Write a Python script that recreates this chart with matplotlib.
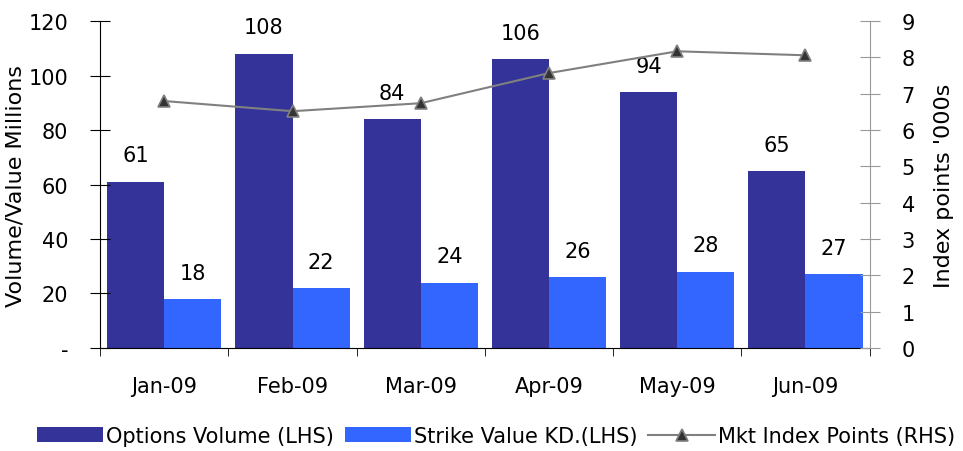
import numpy as np
import matplotlib
matplotlib.use('Agg')
import matplotlib.pyplot as plt
from matplotlib.ticker import FuncFormatter

plt.rc('font', family='DejaVu Sans', size=15)

months = ['Jan-09', 'Feb-09', 'Mar-09', 'Apr-09', 'May-09', 'Jun-09']
options_volume = [61, 108, 84, 106, 94, 65]
strike_value = [18, 22, 24, 26, 28, 27]
mkt_index = [6.80, 6.52, 6.74, 7.57, 8.17, 8.06]

fig = plt.figure(figsize=(9.63, 4.52), dpi=100)
ax = fig.add_axes([0.104, 0.228, 0.799, 0.723])
ax2 = ax.twinx()

x = np.arange(len(months))
w = 0.445
b1 = ax.bar(x - w / 2, options_volume, w, color='#333399', label='Options Volume (LHS)')
b2 = ax.bar(x + w / 2, strike_value, w, color='#3366FF', label='Strike Value KD.(LHS)')

for xi, v in zip(x - w / 2, options_volume):
    ax.text(xi, v + 6, str(v), ha='center', va='bottom', fontsize=15)
for xi, v in zip(x + w / 2, strike_value):
    ax.text(xi, v + 6, str(v), ha='center', va='bottom', fontsize=15)

ln, = ax2.plot(x, mkt_index, color='#808080', lw=1.5, marker='^', ms=9,
               mfc='#333333', mec='#808080', mew=1.2, label='Mkt Index Points (RHS)')

ax.set_xlim(-0.5, len(months) - 0.5)
ax.set_ylim(0, 120)
ax.set_yticks(range(0, 121, 20))
ax.yaxis.set_major_formatter(FuncFormatter(lambda v, p: '-' if v == 0 else f'{v:.0f}'))
ax2.set_ylim(0, 9)
ax2.set_yticks(range(0, 10))

ax.set_xticks(x)
ax.set_xticklabels(months)
ax.set_xticks(np.arange(-0.5, len(months)), minor=True)
ax.tick_params(axis='x', which='major', length=0, pad=20, labelsize=15)
ax.tick_params(axis='x', which='minor', length=6, direction='out', color='black')
ax.tick_params(axis='y', direction='inout', length=14, color='black', pad=16, labelsize=15)
ax2.tick_params(axis='y', direction='inout', length=14, color='#999999', pad=16, labelsize=15)

for s in ['top', 'right']:
    ax.spines[s].set_visible(False)
for s in ['top', 'left', 'bottom']:
    ax2.spines[s].set_visible(False)
ax2.spines['right'].set_color('#999999')

ax.set_ylabel('Volume/Value Millions', fontsize=16, labelpad=2)
ax2.set_ylabel("Index points '000s", fontsize=16, labelpad=14)

fig.legend(handles=[b1, b2, ln], loc='lower center', bbox_to_anchor=(0.515, -0.03),
           ncol=3, frameon=False, fontsize=15, handlelength=3.2, handletextpad=0.15,
           columnspacing=0.5)

fig.savefig('out.png', dpi=100)
